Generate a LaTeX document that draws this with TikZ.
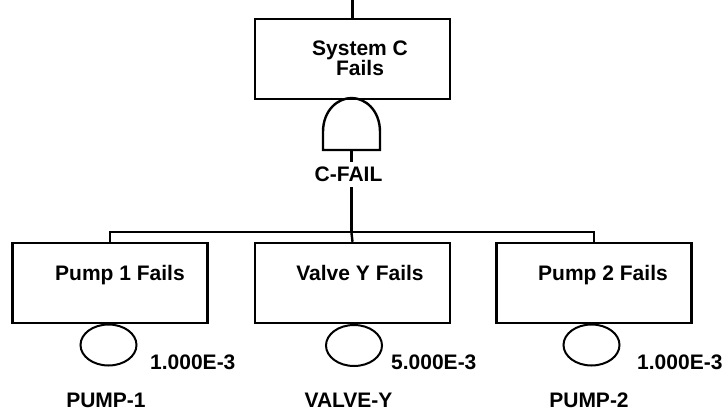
\documentclass[tikz,border=0pt]{standalone}
\usepackage{fontspec}
\setmainfont{Liberation Sans}
\usetikzlibrary{positioning, shapes.geometric}

\begin{document}
\begin{tikzpicture}[x=1pt, y=-1pt, line width=2.4pt,
  every node/.style={font=\fontsize{21}{20}\selectfont\bfseries},
  eventbox/.style={draw, minimum width=195pt, minimum height=80pt},
  basic/.style={draw, ellipse, line width=2pt, minimum width=56pt, minimum height=41pt, inner sep=0pt},
  txt/.style={anchor=base, inner sep=0pt}]
\useasboundingbox (0,0) rectangle (722,411);
\coordinate (topin) at (352.5,0);
\node[eventbox] (sysc) at (352.5,59) {};
\node[align=center, inner sep=0pt] (sysctext) at (360,58) {System C\\Fails};
% AND gate
\draw (323,150) -- (323,132) .. controls (323,110) and (338,98) .. (351.5,98) .. controls (365,98) and (380,110) .. (380,132) -- (380,150) -- cycle;
\coordinate (gateout) at (351.5,150);
\node[anchor=base, inner sep=4pt] (cfail) at (348.5,182) {C-FAIL};
\coordinate (bus) at (351.5,233);

\node[eventbox] (pump1) at (110,283) {};
\node[eventbox] (valve) at (352.5,283) {};
\node[eventbox] (pump2) at (594,283) {};
\node[txt] (pump1text) at (120,281) {Pump 1 Fails};
\node[txt] (valvetext) at (360,281) {Valve Y Fails};
\node[txt] (pump2text) at (603,281) {Pump 2 Fails};

\node[basic] (pump1ev) at (108.5,345) {};
\node[basic] (valveev) at (354,345.5) {};
\node[basic] (pump2ev) at (591.5,345) {};
\node[txt, anchor=base west] (pump1prob) at (149,369) {1.000E-3};
\node[txt, anchor=base west] (valveprob) at (390,369) {5.000E-3};
\node[txt, anchor=base west] (pump2prob) at (636,369) {1.000E-3};
\node[txt] (pump1id) at (106,407) {PUMP-1};
\node[txt] (valveid) at (348.5,407) {VALVE-Y};
\node[txt] (pump2id) at (589,407) {PUMP-2};

\draw (topin) -- (sysc.north);
\draw (gateout) -- (gateout |- cfail.north);
\draw (bus |- cfail.south) -- (bus);
\draw (pump1.north) -- ++(0,-10) -| (pump2.north);
\draw (bus) -- (valve.north);
\end{tikzpicture}
\end{document}
